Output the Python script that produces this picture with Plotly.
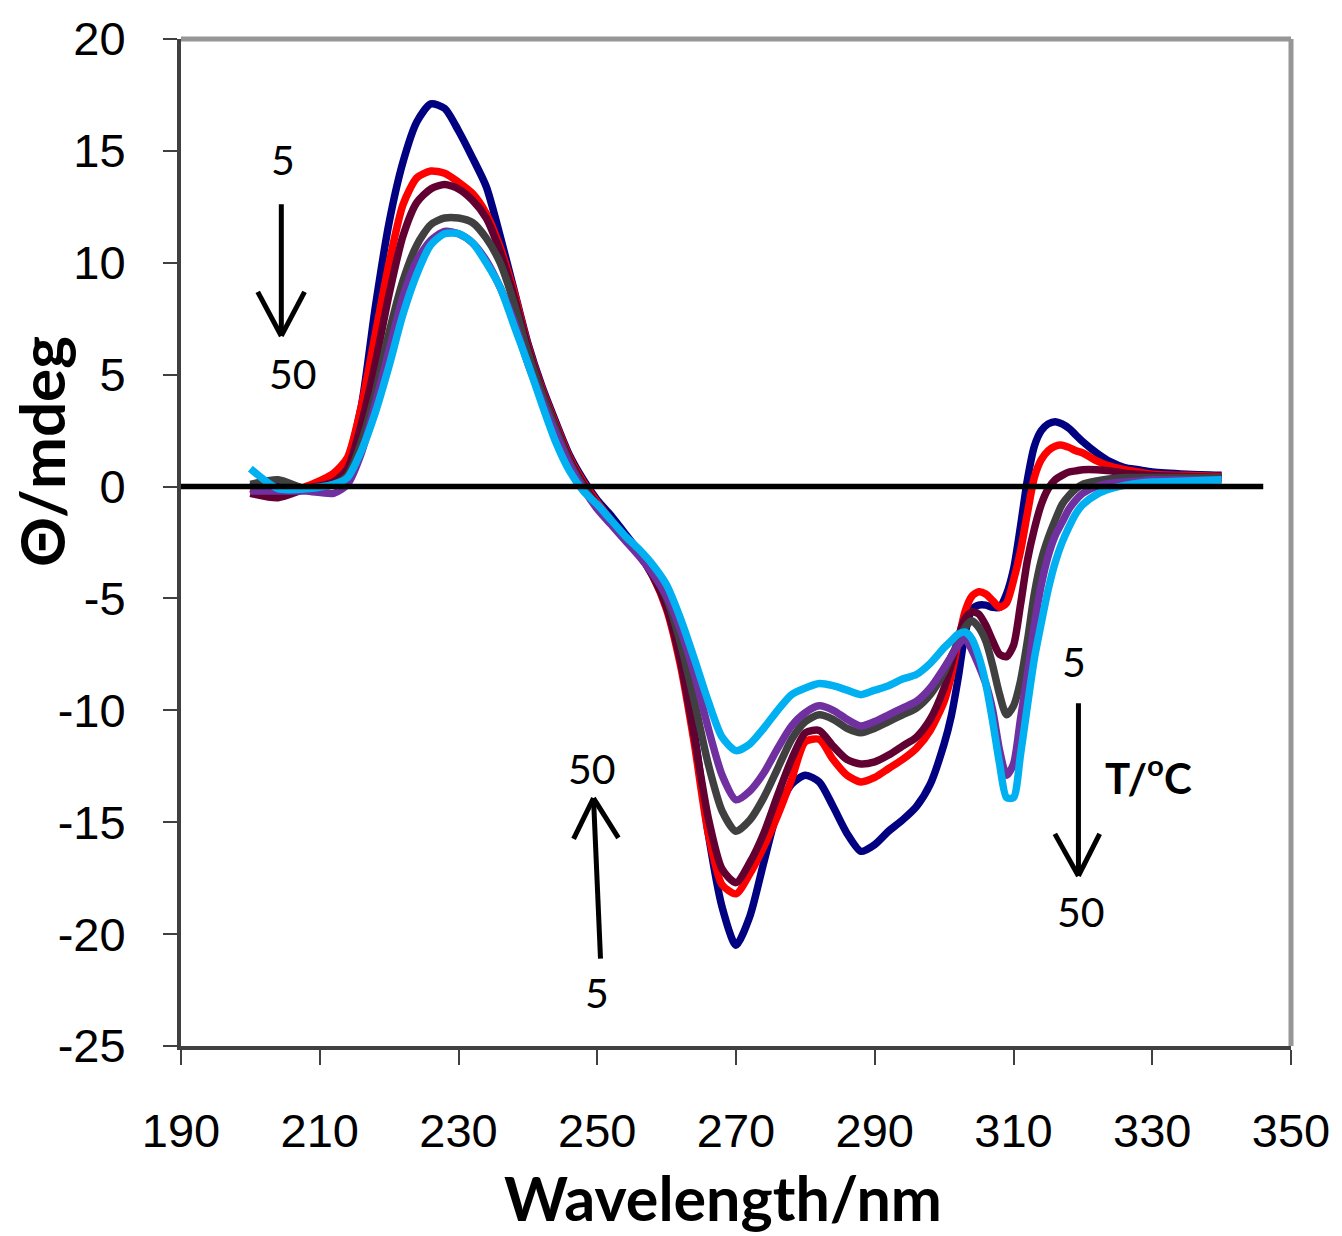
import plotly.graph_objects as go

wavelength = [200, 204, 208, 212, 214, 216, 218, 220, 222, 224, 226, 228, 230, 232, 234, 236, 238,
              240, 242, 244, 246, 248, 250, 252, 254, 256, 258, 260, 262, 264, 266, 268, 270, 272,
              274, 276, 278, 280, 282, 284, 286, 288, 290, 292, 294, 296, 298, 300, 301, 302, 303,
              304, 305, 306, 307, 308, 309, 310, 311, 312, 313, 314, 315, 316, 317, 318, 319, 320,
              322, 324, 326, 328, 330, 335, 340]

t05 = [0.0, 0.2, -0.1, 0.3, 1.2, 3.6, 8.0, 11.8, 14.5, 16.3, 17.1, 16.9, 15.9, 14.7, 13.4, 11.2, 8.8,
       6.4, 4.5, 2.9, 1.4, 0.3, -0.6, -1.3, -2.1, -2.9, -3.8, -5.2, -7.5, -11.0, -15.5, -18.8, -20.5, -19.2,
       -16.8, -14.5, -13.3, -12.9, -13.2, -14.3, -15.5, -16.3, -16.0, -15.4, -14.9, -14.3, -13.3, -11.5, -10.3, -8.6, -6.6,
       -5.5, -5.3, -5.3, -5.4, -5.4, -4.8, -3.7, -1.8, 0.3, 1.8, 2.5, 2.8, 2.9, 2.8, 2.6, 2.3, 2.0,
       1.5, 1.1, 0.85, 0.75, 0.65, 0.55, 0.5]

t_red = [-0.1, -0.4, 0.0, 0.6, 1.3, 3.6, 6.8, 10.0, 12.6, 13.8, 14.1, 14.0, 13.6, 13.1, 12.2, 10.7, 8.7,
         6.3, 4.4, 2.8, 1.3, 0.2, -0.7, -1.5, -2.3, -3.0, -4.0, -5.5, -8.0, -11.5, -15.5, -17.8, -18.2, -17.3,
         -16.1, -14.7, -13.1, -11.4, -11.3, -12.2, -12.9, -13.2, -13.0, -12.6, -12.2, -11.7, -10.9, -9.6, -8.5, -7.0, -5.6,
         -4.9, -4.7, -4.8, -5.1, -5.4, -5.2, -4.2, -2.9, -1.2, 0.4, 1.2, 1.6, 1.8, 1.85, 1.75, 1.6, 1.5,
         1.15, 0.9, 0.75, 0.65, 0.55, 0.5, 0.45]

t_maroon = [-0.3, -0.5, -0.1, 0.2, 0.8, 2.8, 5.5, 8.6, 11.2, 12.7, 13.3, 13.5, 13.3, 12.8, 12.0, 10.5, 8.5,
            6.2, 4.3, 2.7, 1.2, 0.1, -0.8, -1.5, -2.3, -3.0, -4.0, -5.4, -7.8, -11.2, -14.8, -17.1, -17.7, -16.8,
            -15.5, -13.8, -12.2, -11.0, -10.9, -11.6, -12.2, -12.4, -12.3, -12.0, -11.6, -11.2, -10.4, -9.0, -8.0, -6.8, -5.9,
            -5.6, -5.7, -6.2, -6.9, -7.5, -7.6, -7.1, -5.3, -3.3, -1.9, -0.8, -0.1, 0.3, 0.5, 0.65, 0.7, 0.75,
            0.75, 0.7, 0.6, 0.55, 0.5, 0.45, 0.4]

t_gray = [0.1, 0.3, -0.1, 0.1, 0.5, 2.0, 4.2, 6.9, 9.2, 10.8, 11.7, 12.0, 12.0, 11.8, 11.1, 10.0, 8.2,
          6.0, 4.2, 2.6, 1.1, 0.0, -0.9, -1.6, -2.3, -3.0, -3.8, -5.0, -7.0, -9.6, -12.4, -14.5, -15.4, -14.9,
          -13.9, -12.6, -11.3, -10.5, -10.2, -10.4, -10.8, -11.0, -10.8, -10.5, -10.2, -9.9, -9.3, -8.3, -7.6, -7.0, -6.3,
          -6.0, -6.3, -6.9, -8.0, -9.3, -10.2, -9.8, -8.7, -6.9, -4.8, -3.3, -2.3, -1.5, -0.8, -0.4, -0.1, 0.1,
          0.25, 0.35, 0.4, 0.4, 0.4, 0.4, 0.4]

t_purple = [-0.2, -0.2, -0.2, -0.3, 0.1, 1.5, 3.7, 6.1, 8.5, 10.1, 11.0, 11.4, 11.3, 10.9, 10.1, 8.9, 7.4,
            5.5, 3.9, 2.4, 1.0, -0.1, -1.0, -1.7, -2.4, -3.1, -3.9, -4.9, -6.4, -8.4, -10.8, -12.9, -14.0, -13.6,
            -12.8, -11.7, -10.7, -10.1, -9.8, -10.0, -10.4, -10.7, -10.5, -10.2, -9.9, -9.6, -9.0, -8.1, -7.6, -7.1, -6.8,
            -7.3, -8.0, -8.8, -10.0, -11.8, -12.9, -12.4, -10.4, -8.4, -6.2, -4.4, -3.1, -2.2, -1.6, -1.0, -0.6, -0.3,
            0.0, 0.15, 0.2, 0.25, 0.3, 0.3, 0.3]

t50 = [0.8, -0.1, -0.1, 0.1, 0.4, 1.6, 3.3, 5.4, 7.7, 9.5, 10.8, 11.3, 11.3, 10.9, 10.0, 8.9, 7.2,
       5.5, 3.7, 2.0, 0.7, -0.2, -0.8, -1.5, -2.2, -2.8, -3.5, -4.4, -5.9, -7.7, -9.6, -11.2, -11.8, -11.5,
       -10.8, -10.0, -9.3, -9.0, -8.8, -8.9, -9.1, -9.3, -9.1, -8.9, -8.6, -8.4, -7.9, -7.2, -6.9, -6.6, -6.5,
       -6.8, -7.6, -8.8, -10.5, -12.4, -13.9, -13.9, -12.0, -9.8, -7.7, -6.1, -4.6, -3.4, -2.5, -1.8, -1.2, -0.8,
       -0.35, -0.1, 0.05, 0.15, 0.2, 0.25, 0.3]

series = [
    ("5 °C", t05, "#000080"),
    ("red", t_red, "#FF0000"),
    ("maroon", t_maroon, "#620032"),
    ("gray", t_gray, "#404040"),
    ("purple", t_purple, "#7030A0"),
    ("50 °C", t50, "#00B0F0"),
]

zero_x = [190, 346]
zero_y = [0, 0]

x_ticks = [190, 210, 230, 250, 270, 290, 310, 330, 350]
y_ticks = [-25, -20, -15, -10, -5, 0, 5, 10, 15, 20]

fig = go.Figure()
for name, vals, col in series:
    fig.add_trace(go.Scatter(x=wavelength, y=vals, mode="lines", name=name,
                             line=dict(color=col, width=7.5, shape="spline", smoothing=0.7)))
fig.add_trace(go.Scatter(x=zero_x, y=zero_y, mode="lines", line=dict(color="black", width=5.5),
                         showlegend=False))

# arrow decorations (data coordinates)
arrows = [
    # shaft start, tip, arm-left, arm-right
    ((204.46, 12.62), (204.46, 6.73), (201.06, 8.70), (207.81, 8.70)),
    ((250.47, -21.10), (249.46, -13.92), (246.59, -15.74), (253.05, -15.70)),
    ((319.36, -9.68), (319.36, -17.40), (315.96, -15.52), (322.42, -15.52)),
]
shapes = []
for s, t, a, b in arrows:
    for p in (s, a, b):
        shapes.append(dict(type="line", xref="x", yref="y", x0=p[0], y0=p[1], x1=t[0], y1=t[1],
                           line=dict(color="black", width=5)))
# frame top/right in light gray
shapes.append(dict(type="line", xref="paper", yref="paper", x0=0, x1=1, y0=1, y1=1,
                   line=dict(color="#969696", width=5)))
shapes.append(dict(type="line", xref="paper", yref="paper", x0=1, x1=1, y0=0, y1=1,
                   line=dict(color="#969696", width=5)))

labels = [
    ("5", 204.65, 14.63, False),
    ("50", 206.1, 5.04, False),
    ("50", 249.2, -12.58, False),
    ("5", 250.0, -22.6, False),
    ("5", 318.7, -7.8, False),
    ("T/<sup>o</sup>C", 329.5, -12.9, True),
    ("50", 319.7, -19.0, False),
]
annotations = []
for txt, lx, ly, bold in labels:
    annotations.append(dict(text=f"<b>{txt}</b>" if bold else txt, x=lx, y=ly, xref="x", yref="y",
                            showarrow=False, xanchor="center", yanchor="middle",
                            font=dict(family="Lato", size=42 if bold else 41, color="black")))
annotations.append(dict(text="<b>Wavelength/nm</b>", x=0.488, y=-0.150, xref="paper", yref="paper",
                        showarrow=False, xanchor="center", yanchor="middle",
                        font=dict(family="Lato", size=61, color="black")))
annotations.append(dict(text="<b>Θ/mdeg</b>", x=-0.126, y=0.59, xref="paper", yref="paper",
                        showarrow=False, xanchor="center", yanchor="middle", textangle=-90,
                        font=dict(family="Lato", size=62, color="black")))

fig.update_layout(
    width=1342, height=1236,
    margin=dict(l=181, r=47, t=37, b=190),
    paper_bgcolor="white", plot_bgcolor="white",
    showlegend=False,
    shapes=shapes, annotations=annotations,
    xaxis=dict(range=[190, 350], tickvals=x_ticks, ticktext=[str(v) for v in x_ticks],
               showgrid=False, zeroline=False, showline=True, linecolor="#404040", linewidth=4,
               ticks="outside", ticklen=15, tickwidth=1.5, tickcolor="#404040",
               ticklabelstandoff=26,
               tickfont=dict(family="Liberation Sans", size=47, color="black")),
    yaxis=dict(range=[-25, 20], tickvals=y_ticks, ticktext=[str(v) for v in y_ticks],
               showgrid=False, zeroline=False, showline=True, linecolor="#404040", linewidth=4,
               ticks="outside", ticklen=14, tickwidth=1.5, tickcolor="#404040",
               ticklabelstandoff=28,
               tickfont=dict(family="Liberation Sans", size=47, color="black")),
)

fig.write_html("out.html")
